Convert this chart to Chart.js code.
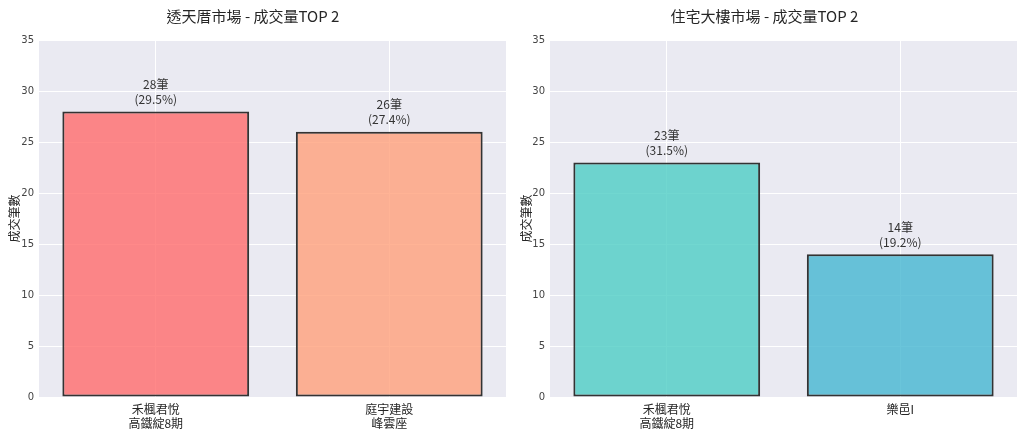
<!DOCTYPE html>
<html>
<head>
<meta charset="utf-8">
<script src="https://cdn.jsdelivr.net/npm/chart.js@4"></script>
<style>
  html, body { margin: 0; padding: 0; background: #fff; }
  .wrap { display: flex; width: 1024px; height: 435px; }
  .box { position: relative; width: 512px; height: 435px; }
</style>
</head>
<body>
<div class="wrap">
  <div class="box"><canvas id="houseChart"></canvas></div>
  <div class="box"><canvas id="towerChart"></canvas></div>
</div>
<script>
const houseTitle = '透天厝市場 - 成交量TOP 2';
const houseLabels = [['禾楓君悅', '高鐵綻8期'], ['庭宇建設', '峰雲座']];
const houseCounts = [28, 26];
const houseShares = [29.5, 27.4];
const houseColors = ['rgba(255,107,107,0.8)', 'rgba(255,160,122,0.8)'];

const towerTitle = '住宅大樓市場 - 成交量TOP 2';
const towerLabels = [['禾楓君悅', '高鐵綻8期'], '樂邑I'];
const towerCounts = [23, 14];
const towerShares = [31.5, 19.2];
const towerColors = ['rgba(78,205,196,0.8)', 'rgba(69,183,209,0.8)'];

const yTicks = [0, 5, 10, 15, 20, 25, 30, 35];

const cjk = '"Noto Sans CJK TC", "Noto Sans CJK SC", sans-serif';

const plotBg = {
    id: 'plotBg',
    beforeDraw(chart) {
        const a = chart.chartArea;
        const ctx = chart.ctx;
        ctx.save();
        ctx.fillStyle = '#EAEAF2';
        ctx.fillRect(a.left, a.top, a.right - a.left, a.bottom - a.top);
        ctx.restore();
    }
};

const barLabels = {
    id: 'barLabels',
    afterDatasetsDraw(chart) {
        const ctx = chart.ctx;
        const ds = chart.data.datasets[0];
        const meta = chart.getDatasetMeta(0);
        ctx.save();
        ctx.font = '12px ' + cjk;
        ctx.fillStyle = '#333333';
        ctx.textAlign = 'center';
        ctx.textBaseline = 'middle';
        meta.data.forEach((bar, i) => {
            ctx.fillText(ds.data[i] + '筆', bar.x, bar.y - 27);
            ctx.fillText('(' + ds.shares[i].toFixed(1) + '%)', bar.x, bar.y - 12);
        });
        ctx.restore();
    }
};

function makeChart(id, title, labels, counts, shares, colors, leftWidth, rightPad) {
    const ctx = document.getElementById(id).getContext('2d');
    return new Chart(ctx, {
        type: 'bar',
        data: {
            labels: labels,
            datasets: [{
                data: counts,
                shares: shares,
                backgroundColor: colors,
                borderColor: '#333333',
                borderWidth: 2,
                borderSkipped: false,
                categoryPercentage: 1.0,
                barPercentage: 0.8
            }]
        },
        options: {
            responsive: true,
            maintainAspectRatio: false,
            animation: false,
            layout: { padding: { left: 0, right: rightPad, top: 0, bottom: 0 } },
            plugins: {
                legend: { display: false },
                tooltip: { enabled: false },
                title: {
                    display: true,
                    text: title,
                    color: '#262626',
                    font: { family: cjk, size: 15, weight: 'normal' },
                    padding: { top: 7, bottom: 15 }
                }
            },
            scales: {
                x: {
                    grid: { color: '#ffffff', lineWidth: 1, offset: false, drawTicks: false },
                    border: { display: false },
                    ticks: {
                        color: '#262626',
                        font: { family: cjk, size: 12 },
                        padding: 5,
                        maxRotation: 0
                    },
                    afterFit(scale) { scale.height = 38; }
                },
                y: {
                    min: 0,
                    max: 35,
                    afterBuildTicks(scale) { scale.ticks = yTicks.map(v => ({ value: v })); },
                    grid: { color: '#ffffff', lineWidth: 1, drawTicks: false },
                    border: { display: false },
                    ticks: {
                        color: '#444444',
                        font: { family: '"DejaVu Sans", sans-serif', size: 10 },
                        padding: 5
                    },
                    title: {
                        display: true,
                        text: '成交筆數',
                        color: '#262626',
                        font: { family: cjk, size: 12 },
                        padding: { top: 7, bottom: 2 }
                    },
                    afterFit(scale) { scale.width = leftWidth; }
                }
            }
        },
        plugins: [plotBg, barLabels]
    });
}

makeChart('houseChart', houseTitle, houseLabels, houseCounts, houseShares, houseColors, 39, 6);
makeChart('towerChart', towerTitle, towerLabels, towerCounts, towerShares, towerColors, 38, 7);
</script>
</body>
</html>
